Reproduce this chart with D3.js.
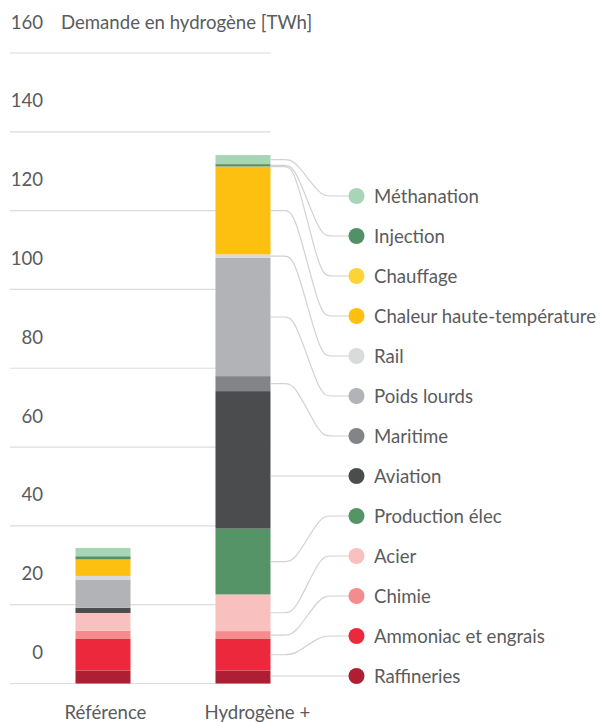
<!DOCTYPE html>
<html>
<head>
<meta charset="utf-8">
<script src="https://cdn.jsdelivr.net/npm/d3@7"></script>
<style>
  body { margin: 0; background: #fff; }
  text { font-family: Lato, "Open Sans", sans-serif; fill: #5a5b5d; }
</style>
</head>
<body>
<div id="vis"></div>
<script>
// categories, stacked bottom to top
const categories = ['Référence', 'Hydrogène +'];
const series = [
  'Raffineries', 'Ammoniac et engrais', 'Chimie', 'Acier', 'Production élec',
  'Aviation', 'Maritime', 'Poids lourds', 'Rail', 'Chaleur haute-température',
  'Chauffage', 'Injection', 'Méthanation'
];
const colours = [
  '#ae1f33', '#ec283c', '#f48b8d', '#f8c0bf', '#559467',
  '#4b4c4e', '#838487', '#b2b3b6', '#d9dadb', '#fdc010',
  '#fdd335', '#529167', '#a8d5b5'
];
// TWh, same order as series
const reference = [3.3, 8.0, 2.1, 4.5, 0, 1.3, 0, 7.2, 0.9, 4.2, 0, 0.8, 2.1];
const hydrogene = [3.3, 8.0, 2.0, 9.3, 16.7, 34.9, 3.8, 30.0, 0.9, 22.2, 0.1, 0.6, 2.3];
const yTicks = [0, 20, 40, 60, 80, 100, 120, 140, 160];
const yTitle = 'Demande en hydrogène [TWh]';

const width = 604, height = 722;
const fontSize = 18.6;

const $svg = d3.select('#vis').append('svg')
  .attr('width', width)
  .attr('height', height);

const x = d3.scaleBand()
  .domain(categories)
  .range([75.5, 270.5])
  .paddingInner(0.607)
  .paddingOuter(0);

const y = d3.scaleLinear()
  .domain([0, 160])
  .range([683.5, 53]);

const colour = d3.scaleOrdinal(series, colours);

// gridlines + tick labels
const $grid = $svg.append('g').attr('class', 'grid');
$grid.selectAll('line')
  .data(yTicks)
  .join('line')
  .attr('x1', 10)
  .attr('x2', x.range()[1])
  .attr('y1', d => y(d))
  .attr('y2', d => y(d))
  .attr('stroke', '#dcdcdc')
  .attr('stroke-width', 1.2);

$grid.selectAll('text')
  .data(yTicks)
  .join('text')
  .attr('x', 43)
  .attr('y', d => y(d) - 24.5)
  .attr('text-anchor', 'end')
  .attr('font-size', fontSize)
  .text(d => d);

$svg.append('text')
  .attr('x', 61)
  .attr('y', y(160) - 24.5)
  .attr('font-size', fontSize)
  .text(yTitle);

// stacked bars
const rows = categories.map((c, i) => {
  const vals = i === 0 ? reference : hydrogene;
  const row = { category: c };
  series.forEach((s, j) => { row[s] = vals[j]; });
  return row;
});

const stacked = d3.stack().keys(series)(rows);

$svg.append('g')
  .attr('class', 'bars')
  .selectAll('g')
  .data(stacked)
  .join('g')
  .attr('fill', d => colour(d.key))
  .selectAll('rect')
  .data(d => d)
  .join('rect')
  .attr('x', d => x(d.data.category))
  .attr('width', x.bandwidth())
  .attr('y', d => y(d[1]))
  .attr('height', d => y(d[0]) - y(d[1]));

// category labels
$svg.append('g')
  .selectAll('text')
  .data(categories)
  .join('text')
  .attr('x', d => x(d) - 11)
  .attr('y', 719)
  .attr('font-size', fontSize)
  .text(d => d);

// legend, top to bottom
const legendKeys = series.slice().reverse();
const ly = d3.scalePoint()
  .domain(legendKeys)
  .range([196, 676]);

const dotX = 356.5;
const barRight = x(categories[1]) + x.bandwidth();

const link = d3.line().curve(d3.curveBasis);

const $legend = $svg.append('g').attr('class', 'legend');

legendKeys.forEach(key => {
  const layer = stacked.find(s => s.key === key);
  const seg = layer[1];
  const top = y(seg[1]), bottom = y(seg[0]);
  const target = ly(key);
  let attach = (top + bottom) / 2;
  if (target > top && target < bottom) attach = target;

  $legend.append('path')
    .attr('d', link([
      [barRight, attach], [285, attach], [295, attach],
      [320, target], [330, target], [dotX - 7, target]
    ]))
    .attr('fill', 'none')
    .attr('stroke', '#d2d2d2')
    .attr('stroke-width', 1.2);

  $legend.append('circle')
    .attr('cx', dotX)
    .attr('cy', target)
    .attr('r', 8)
    .attr('fill', colour(key));

  $legend.append('text')
    .attr('x', 374)
    .attr('y', target)
    .attr('dy', '0.36em')
    .attr('font-size', fontSize)
    .text(key);
});
</script>
</body>
</html>
